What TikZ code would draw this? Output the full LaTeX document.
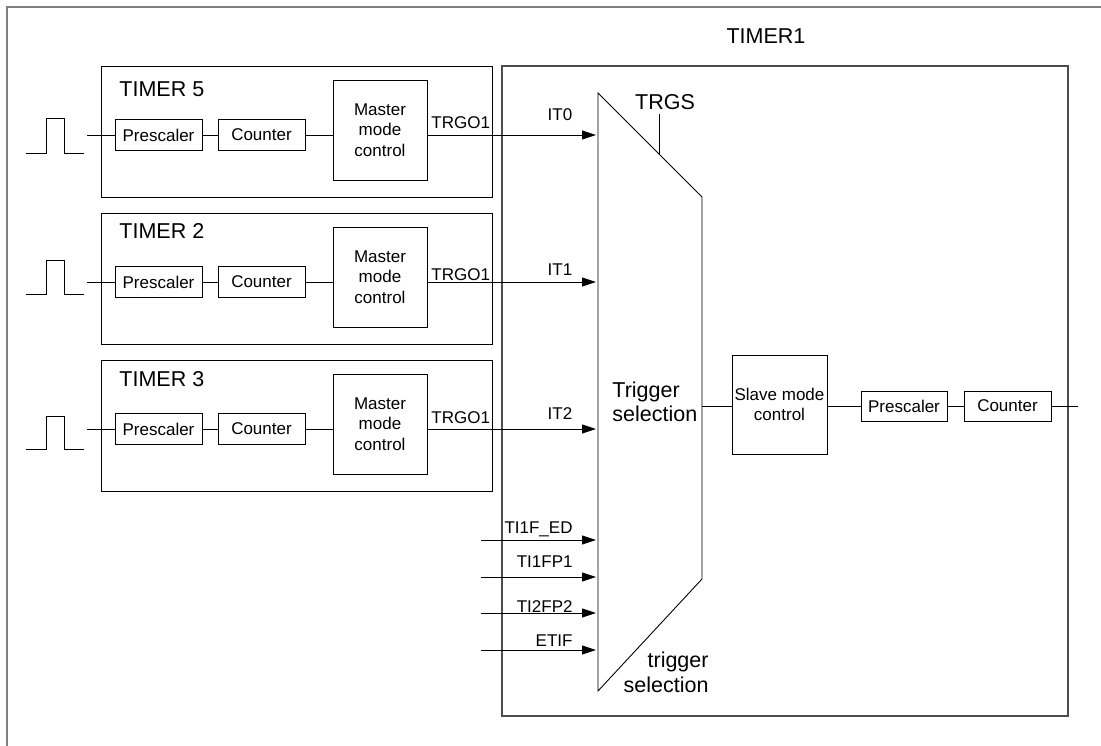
\documentclass[tikz,border=0pt]{standalone}
\usepackage{fontspec}
\setmainfont{Liberation Sans}
\usetikzlibrary{arrows.meta}
\begin{document}
\begin{tikzpicture}[x=1pt,y=-1pt,line width=0.9pt,
  blk/.style={draw, inner sep=0pt, outer sep=0pt, align=center, font=\fontsize{17}{20.5}\selectfont},
  tbox/.style={draw, line width=0.9pt, inner sep=0pt, outer sep=0pt, minimum width=391pt, minimum height=131pt, anchor=north west},
  lbl/.style={inner sep=0pt, font=\fontsize{17}{20.5}\selectfont},
  biglbl/.style={inner sep=0pt, font=\fontsize{21.5}{24.7}\selectfont},
  arr/.style={-{Triangle[length=14pt,width=9pt]}, shorten >=2pt},
  frame/.style={draw=black!50, line width=1.5pt}
  ]
\useasboundingbox (0,0) rectangle (1101,746);
% outer frame
\coordinate (fA) at (7,746);
\coordinate (fB) at (7,7);
\coordinate (fC) at (1101,7);
\draw[frame] (fA) -- (fB) -- (fC);

% TIMER1 box
\node[draw=black!70, line width=1.2pt, inner sep=0pt, outer sep=0pt, minimum width=566pt, minimum height=650pt, anchor=north west] (t1) at (502,66) {};
\node[biglbl, anchor=base] (t1lbl) at (766,43.7) {TIMER1};

% trapezoid (trigger selection)
\coordinate (tA) at (598,93);
\coordinate (tB) at (702,197);
\coordinate (tC) at (702,579);
\coordinate (tD) at (598,691);
\draw (tA) -- (tB) -- (tC) -- (tD) -- cycle;
\node[biglbl, anchor=base] (trgs) at (665,110) {TRGS};
\coordinate (tkA) at (659,114);
\coordinate (tkB) at (659,154);
\draw (tkA) -- (tkB);
\node[biglbl, anchor=base west, align=left] (trig) at (612,421.7) {Trigger\\selection};
\node[biglbl, anchor=base east, align=right] (trigb) at (709,692) {trigger\\selection};

% timers 5,2,3
\foreach \n/\tp/\tl/\lo/\hi/\trg/\it/\itl in
  {5/66/97/153/118/129/0/121, 2/213/239/294/260/280/1/276, 3/360/386/449/416/423/2/419}{
  \node[tbox] (tm\n) at (101,\tp) {};
  \node[biglbl, anchor=base west] (tml\n) at (119,\tl) {TIMER \n};
  \node[blk, minimum width=87pt, minimum height=31pt] (pre\n) at (158.5,\tp+69) {Prescaler};
  \node[blk, minimum width=87pt, minimum height=31pt] (cnt\n) at (261.5,\tp+69) {Counter};
  \node[blk, minimum width=94pt, minimum height=100pt] (mm\n) at (380,\tp+64) {Master\\mode\\control};
  \coordinate (pin\n) at (87,\tp+69);
  \draw (pin\n) -- (pre\n.west);
  \draw (pre\n.east) -- (cnt\n.west);
  \draw (cnt\n.east) -- (mm\n.west |- cnt\n.east);
  \draw[arr] (mm\n.east |- pre\n.east) -- (tA |- pre\n.east);
  \node[lbl, anchor=base west] (trgo\n) at (431,\trg) {TRGO1};
  \node[lbl, anchor=base] (itl\n) at (560,\itl) {IT\it};
  \draw (26,\lo) -- (46,\lo) -- (46,\hi) -- (64,\hi) -- (64,\lo) -- (84,\lo);
}

% external trigger inputs
\coordinate (i1) at (481,540);
\coordinate (i2) at (481,577);
\coordinate (i3) at (481,613);
\coordinate (i4) at (481,650);
\draw[arr] (i1) -- (tA |- i1);
\draw[arr] (i2) -- (tA |- i2);
\draw[arr] (i3) -- (tA |- i3);
\draw[arr] (i4) -- (tA |- i4);
\node[lbl, anchor=base east] (l1) at (573,533) {TI1F\_ED};
\node[lbl, anchor=base east] (l2) at (573,567) {TI1FP1};
\node[lbl, anchor=base east] (l3) at (573,612) {TI2FP2};
\node[lbl, anchor=base east] (l4) at (573,646) {ETIF};

% slave chain
\node[blk, minimum width=95pt, minimum height=99pt] (slave) at (779.5,404.5) {Slave mode\\control};
\node[blk, minimum width=86pt, minimum height=30pt] (pre1) at (904,406) {Prescaler};
\node[blk, minimum width=87pt, minimum height=30pt] (cnt1) at (1007.5,406) {Counter};
\coordinate (out1) at (1078,406);
\draw (tC |- pre1.west) -- (slave.west |- pre1.west);
\draw (slave.east |- pre1.west) -- (pre1.west);
\draw (pre1.east) -- (cnt1.west);
\draw (cnt1.east) -- (out1);
\end{tikzpicture}
\end{document}
